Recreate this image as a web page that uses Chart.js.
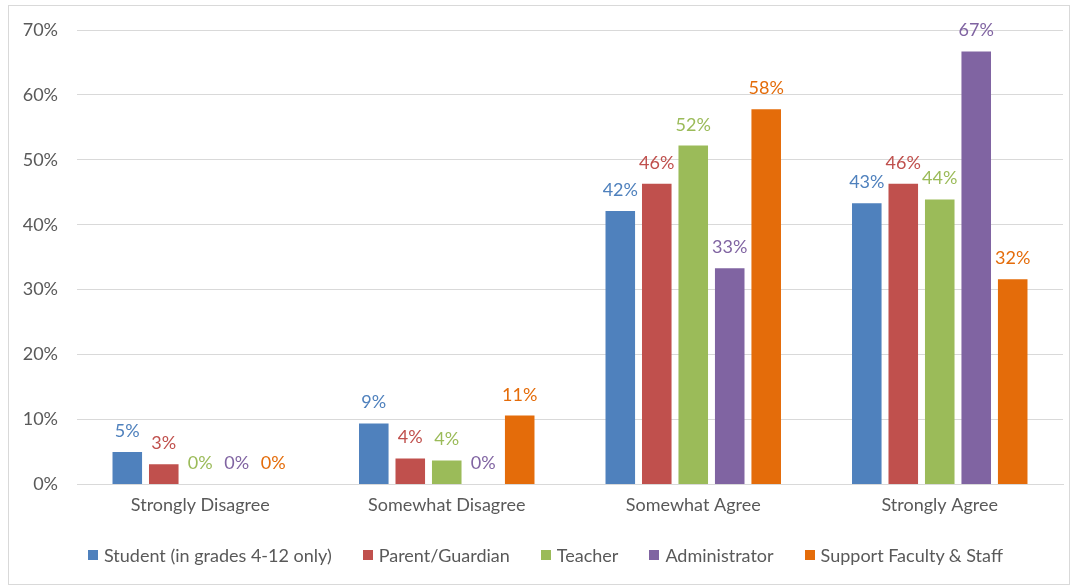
<!DOCTYPE html>
<html>
<head>
<meta charset="utf-8">
<script src="https://cdn.jsdelivr.net/npm/chart.js@4.4.1/dist/chart.umd.min.js"></script>
<style>
    html, body { margin: 0; padding: 0; background: #fff; }
    .frame {
        position: absolute;
        left: 8px;
        top: 5px;
        width: 1060px;
        height: 578px;
        border: 1px solid #d9d9d9;
    }
    .frame canvas { display: block; }
    .legend {
        position: absolute;
        left: 88px;
        top: 545px;
        display: flex;
        align-items: center;
        gap: 31px;
        font: 18px Lato, "Open Sans", sans-serif;
        line-height: 20px;
        color: #595959;
        white-space: nowrap;
    }
    .legend-item { display: flex; align-items: center; }
    .legend-box { width: 10px; height: 10px; margin-right: 6px; }
</style>
</head>
<body>
<div class="frame">
    <canvas id="surveyChart" width="1060" height="578"></canvas>
</div>
<div class="legend" id="legend"></div>
<script>
// 回答类别
const categories = ['Strongly Disagree', 'Somewhat Disagree', 'Somewhat Agree', 'Strongly Agree'];

// 各群体的百分比
const studentValues = [5.0, 9.4, 42.1, 43.3];
const parentValues = [3.1, 4.0, 46.3, 46.3];
const teacherValues = [0, 3.7, 52.2, 43.9];
const adminValues = [0, 0, 33.3, 66.7];
const staffValues = [0, 10.6, 57.8, 31.6];

// 纵轴刻度
const yTicks = [0, 10, 20, 30, 40, 50, 60, 70];

const textColor = '#595959';
const gridColor = '#d9d9d9';
const fontFamily = 'Lato, "Open Sans", sans-serif';

// 柱顶数值标签
const valueLabels = {
    id: 'valueLabels',
    afterDatasetsDraw(chart) {
        const ctx = chart.ctx;
        ctx.save();
        ctx.font = '18px ' + fontFamily;
        ctx.textAlign = 'center';
        ctx.textBaseline = 'alphabetic';
        chart.data.datasets.forEach((ds, i) => {
            const meta = chart.getDatasetMeta(i);
            ctx.fillStyle = ds.backgroundColor;
            meta.data.forEach((bar, j) => {
                ctx.fillText(Math.round(ds.data[j]) + '%', bar.x, bar.y - 15);
            });
        });
        ctx.restore();
    }
};

// 图例放在画布下方，用 HTML 生成
function buildLegend(chart) {
    const box = document.getElementById('legend');
    chart.data.datasets.forEach(ds => {
        const item = document.createElement('span');
        item.className = 'legend-item';
        const swatch = document.createElement('span');
        swatch.className = 'legend-box';
        swatch.style.background = ds.backgroundColor;
        item.appendChild(swatch);
        item.appendChild(document.createTextNode(ds.label));
        box.appendChild(item);
    });
}

document.addEventListener('DOMContentLoaded', function() {
    const el = document.getElementById('surveyChart');
    const chart = new Chart(el, {
        type: 'bar',
        data: {
            labels: categories,
            datasets: [
                { label: 'Student (in grades 4-12 only)', data: studentValues, backgroundColor: '#4F81BD' },
                { label: 'Parent/Guardian', data: parentValues, backgroundColor: '#C0504D' },
                { label: 'Teacher', data: teacherValues, backgroundColor: '#9BBB59' },
                { label: 'Administrator', data: adminValues, backgroundColor: '#8064A2' },
                { label: 'Support Faculty & Staff', data: staffValues, backgroundColor: '#E46C0A' }
            ]
        },
        options: {
            responsive: false,
            animation: false,
            categoryPercentage: 0.74,
            barPercentage: 0.81,
            layout: {
                padding: { top: 24, right: 6, bottom: 58, left: 0 }
            },
            plugins: {
                legend: { display: false },
                tooltip: { enabled: false }
            },
            scales: {
                x: {
                    grid: { display: false, drawTicks: false },
                    border: { color: gridColor },
                    ticks: {
                        color: textColor,
                        padding: 10,
                        font: { family: fontFamily, size: 18 }
                    }
                },
                y: {
                    min: 0,
                    max: 70,
                    afterBuildTicks(scale) {
                        scale.ticks = yTicks.map(v => ({ value: v }));
                    },
                    grid: { color: gridColor, drawTicks: false },
                    border: { display: false },
                    ticks: {
                        color: textColor,
                        padding: 19,
                        font: { family: fontFamily, size: 18 },
                        callback: v => v + '%'
                    },
                    afterFit(scale) {
                        // 刻度文字的 padding 不要算进上下留白
                        scale.width = 68;
                        scale.paddingTop = 0;
                        scale.paddingBottom = 0;
                    }
                }
            }
        },
        plugins: [valueLabels]
    });
    buildLegend(chart);
});
</script>
</body>
</html>
